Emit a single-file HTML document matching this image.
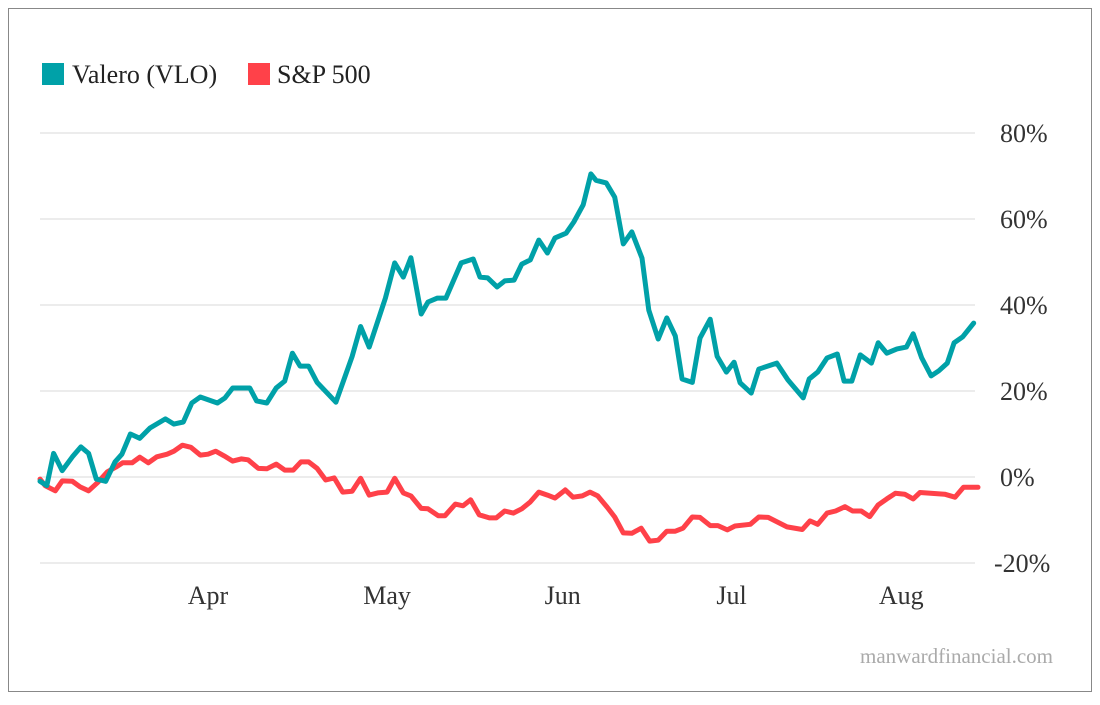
<!DOCTYPE html>
<html><head><meta charset="utf-8"><style>
body{margin:0;background:#fff;}
svg text{font-family:"Liberation Serif",serif;}
</style></head><body>
<svg width="1100" height="700">
<rect x="8.5" y="8.5" width="1083" height="683" fill="#fff" stroke="#888"/>
<g id="grid"></g><g id="lines"></g><g id="labels"></g>
<rect x="42" y="63" width="22" height="22" fill="#00a1a8"/>
<text x="72" y="83" font-size="26" fill="#222">Valero (VLO)</text>
<rect x="248" y="63" width="22" height="22" fill="#ff4149"/>
<text x="277" y="83" font-size="26" fill="#222">S&amp;P 500</text>
<text x="1053" y="663" font-size="21" fill="#aaa" text-anchor="end">manwardfinancial.com</text>
</svg>
<script>
const yTicks=[80,60,40,20,0,-20];
const monthLabels=["Apr","May","Jun","Jul","Aug"];
const monthDays=[19.7,40.7,61.3,81.1,101];
const vloDays=[0,0.8,1.6,2.6,3.8,4.8,5.7,6.6,7.7,8.8,9.6,10.6,11.7,12.9,14.7,15.7,16.8,17.8,18.8,20.8,21.7,22.6,24.6,25.4,26.6,27.7,28.7,29.6,30.5,31.5,32.5,34.7,36.6,37.6,38.6,40.5,41.6,42.6,43.5,44.7,45.5,46.6,47.6,49.4,50.8,51.6,52.5,53.6,54.5,55.6,56.5,57.5,58.5,59.5,60.4,61.7,62.6,63.7,64.6,65.2,66.4,67.4,68.4,69.4,70.6,71.4,72.5,73.5,74.5,75.3,76.5,77.4,78.6,79.4,80.5,81.4,82.1,83.4,84.3,86.4,87.7,89.5,90.2,91.2,92.3,93.5,94.3,95.2,96.2,97.5,98.3,99.3,100.5,101.6,102.4,103.4,104.5,105.4,106.4,107.2,108.2,109.5];
const vloVals=[-1,-2,5.5,1.5,4.7,7,5.5,-0.5,-1,3.5,5.3,10,9,11.4,13.5,12.3,12.8,17.2,18.6,17.2,18.4,20.7,20.7,17.7,17.2,20.7,22.3,28.8,25.8,25.8,22,17.4,28,35,30.2,41.6,49.8,46.5,51,37.9,40.7,41.6,41.6,49.8,50.7,46.5,46.3,44.2,45.6,45.8,49.5,50.5,55.1,52.1,55.6,56.7,59.3,63.3,70.5,69,68.4,65.1,54.2,57,50.9,38.8,32.1,37,32.8,22.8,22,32.3,36.7,28.1,24.4,26.7,21.9,19.5,25.1,26.5,22.6,18.4,22.8,24.4,27.7,28.6,22.3,22.3,28.4,26.5,31.2,28.8,29.8,30.2,33.3,27.7,23.5,24.7,26.5,31.2,32.6,35.8];
const spxDays=[0,0.6,1.8,2.6,3.8,4.7,5.7,6.8,7.9,8.9,9.7,10.8,11.7,12.7,13.7,14.9,15.7,16.7,17.7,18.8,19.7,20.6,21.6,22.6,23.6,24.4,25.6,26.6,27.7,28.7,29.7,30.6,31.5,32.5,33.5,34.5,35.5,36.6,37.6,38.6,39.6,40.7,41.6,42.6,43.5,44.7,45.5,46.7,47.5,48.7,49.6,50.5,51.5,52.7,53.5,54.5,55.5,56.5,57.5,58.5,59.5,60.4,61.6,62.5,63.6,64.5,65.4,66.5,67.4,68.4,69.4,70.5,71.5,72.5,73.5,74.5,75.4,76.5,77.4,78.6,79.5,80.6,81.5,83.3,84.3,85.4,86.5,87.6,89.4,90.3,91.2,92.3,93.3,94.4,95.3,96.3,97.3,98.3,99.3,100.3,101.4,102.4,103.2,106.1,107.3,108.3,110];
const spxVals=[-0.5,-2,-3.2,-0.9,-1,-2.3,-3.2,-1.2,1.2,2.3,3.3,3.3,4.6,3.3,4.7,5.3,6,7.4,6.9,5.1,5.3,6,4.9,3.7,4.2,4,2,1.9,3,1.6,1.6,3.5,3.5,2,-0.7,-0.2,-3.5,-3.3,-0.3,-4.2,-3.7,-3.5,-0.3,-3.7,-4.4,-7.3,-7.4,-9,-9,-6.3,-6.7,-5.3,-8.8,-9.5,-9.5,-7.9,-8.4,-7.4,-5.8,-3.5,-4.2,-4.9,-3,-4.7,-4.4,-3.5,-4.4,-7,-9.3,-13,-13.1,-11.9,-14.9,-14.7,-12.6,-12.6,-11.9,-9.3,-9.4,-11.3,-11.3,-12.3,-11.4,-11,-9.3,-9.4,-10.5,-11.6,-12.2,-10.2,-11,-8.4,-7.9,-6.9,-7.9,-7.9,-9.2,-6.5,-5.1,-3.8,-4,-5.1,-3.6,-4,-4.7,-2.4,-2.4];

const NS="http://www.w3.org/2000/svg";
const xS=d=>40+d*(938/110);
const yS=v=>477-v*4.3;
const grid=document.getElementById('grid'),lines=document.getElementById('lines'),labels=document.getElementById('labels');
yTicks.forEach(t=>{
  const l=document.createElementNS(NS,'line');
  l.setAttribute('x1',40);l.setAttribute('x2',975);l.setAttribute('y1',yS(t));l.setAttribute('y2',yS(t));
  l.setAttribute('stroke','#d8d8d8');l.setAttribute('stroke-width','1');
  
  
  grid.appendChild(l);
  const tx=document.createElementNS(NS,'text');
  tx.setAttribute('x',t<0?994:1000);tx.setAttribute('y',yS(t)+9);tx.setAttribute('font-size','26');tx.setAttribute('fill','#333');
  tx.textContent=t+'%';
  
  
  labels.appendChild(tx);
});
monthLabels.forEach((m,i)=>{
  const tx=document.createElementNS(NS,'text');
  tx.setAttribute('x',xS(monthDays[i]));tx.setAttribute('y',604);tx.setAttribute('font-size','26');tx.setAttribute('fill','#333');tx.setAttribute('text-anchor','middle');
  tx.textContent=m;
  
  
  labels.appendChild(tx);
});
function draw(days,vals,color,name){
  const p=document.createElementNS(NS,'polyline');
  p.setAttribute('points',days.map((d,i)=>xS(d).toFixed(1)+','+yS(vals[i]).toFixed(1)).join(' '));
  p.setAttribute('fill','none');p.setAttribute('stroke',color);p.setAttribute('stroke-width','5');
  p.setAttribute('stroke-linejoin','round');p.setAttribute('stroke-linecap','round');
  
  
  lines.appendChild(p);
}
draw(spxDays,spxVals,'#ff4149','sp500-line');
draw(vloDays,vloVals,'#00a1a8','vlo-line');
</script>
</body></html>
